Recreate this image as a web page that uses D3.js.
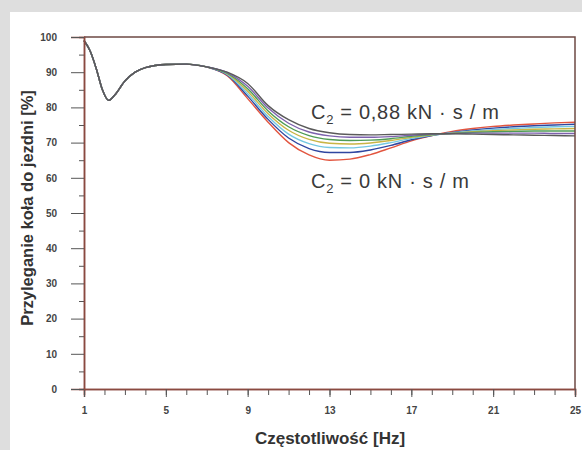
<!DOCTYPE html>
<meta charset="utf-8">
<head>
  <title>Przyleganie kola do jezdni</title>
</head>

<style>
body {
  margin: 0;
  background: #fff;
  font-family: Arial, "Liberation Sans", sans-serif;
}
</style>

<body>
  <div id="content"></div>

  <script src="https://cdnjs.cloudflare.com/ajax/libs/d3/7.8.5/d3.min.js"></script>

  <script>
// Frequencies [Hz]
var freqHead = [1, 1.3, 1.6, 1.9, 2.2, 2.5, 3, 3.5, 4, 5, 6, 7];
var freqTail = [8, 9, 10, 11, 12, 13, 14, 15, 16, 17, 18, 19, 20, 21, 22, 23, 24, 25];

// below 8 Hz all curves overlap
var headValues = [99, 96, 91, 85, 82, 83.5, 87.5, 90, 91.3, 92.2, 92.3, 91.5];

// damping C2 from 0 to 0.88 kN s/m
var c2Red    = [89.0, 82.5, 75.8, 70.0, 66.5, 65.0, 65.3, 66.6, 68.5, 70.5, 72.0, 73.2, 74.0, 74.6, 75.0, 75.3, 75.6, 75.8];
var c2Blue   = [89.2, 83.2, 76.6, 71.3, 68.3, 67.2, 67.2, 67.9, 69.2, 70.8, 72.0, 72.9, 73.6, 74.1, 74.5, 74.8, 75.0, 75.2];
var c2Cyan   = [89.4, 83.9, 77.4, 72.4, 69.7, 68.6, 68.5, 69.0, 70.0, 71.2, 72.1, 72.8, 73.3, 73.7, 74.0, 74.3, 74.5, 74.6];
var c2Yellow = [89.6, 84.6, 78.2, 73.5, 70.9, 69.8, 69.6, 69.9, 70.6, 71.5, 72.2, 72.7, 73.1, 73.4, 73.6, 73.8, 73.9, 74.0];
var c2Green  = [89.7, 85.3, 79.0, 74.5, 72.0, 70.9, 70.6, 70.7, 71.1, 71.8, 72.3, 72.6, 72.9, 73.1, 73.2, 73.3, 73.3, 73.3];
var c2Purple = [89.9, 86.0, 79.8, 75.5, 73.0, 71.9, 71.5, 71.5, 71.7, 72.1, 72.4, 72.6, 72.7, 72.7, 72.7, 72.7, 72.6, 72.6];
var c2Grey   = [90.0, 86.8, 80.5, 76.5, 74.0, 72.8, 72.3, 72.2, 72.3, 72.4, 72.5, 72.5, 72.4, 72.3, 72.2, 72.1, 72.0, 71.9];

var xTickLabels = [1, 5, 9, 13, 17, 21, 25];
var yTickLabels = [0, 10, 20, 30, 40, 50, 60, 70, 80, 90, 100];

var series = [
  {values: c2Red, color: '#e2553f'},
  {values: c2Blue, color: '#2f46a0'},
  {values: c2Cyan, color: '#74c8e2'},
  {values: c2Yellow, color: '#c9b545'},
  {values: c2Green, color: '#4f9c55'},
  {values: c2Purple, color: '#7d62ad'},
  {values: c2Grey, color: '#5a5a5a'}
];

var width = 582, height = 450;
var axisColor = '#8a4a40';

var svg = d3.select('#content').append('svg')
  .attr('width', width)
  .attr('height', height);

// page background: grey margins of the scanned page
svg.append('rect').attr('width', width).attr('height', height).attr('fill', '#dedede');
svg.append('rect').attr('x', 10).attr('y', 12).attr('width', width - 10).attr('height', height - 12).attr('fill', '#fff');

var x = d3.scaleLinear().domain([1, 25]).range([84, 575]);
var y = d3.scaleLinear().domain([0, 100]).range([389, 37]);

var line = d3.line()
  .x(function(d) { return x(d[0]); })
  .y(function(d) { return y(d[1]); })
  .curve(d3.curveMonotoneX);

var plot = svg.append('g');

series.forEach(function(s) {
  var pts = freqHead.map(function(f, i) { return [f, headValues[i]]; })
    .concat(freqTail.map(function(f, i) { return [f, s.values[i]]; }));
  plot.append('path')
    .datum(pts)
    .attr('fill', 'none')
    .attr('stroke', s.color)
    .attr('stroke-width', 1.4)
    .attr('d', line);
});

// frame top + right
svg.append('path')
  .attr('d', 'M' + x(1) + ',' + y(100) + 'H' + x(25) + 'V' + y(0))
  .attr('fill', 'none')
  .attr('stroke', '#6e4a44')
  .attr('stroke-width', 1.5);

// x axis
var xAxis = svg.append('g').attr('transform', 'translate(0,' + y(0) + ')');
xAxis.call(d3.axisBottom(x).tickValues(d3.range(1, 26)).tickSize(6).tickFormat(''));
xAxis.append('g').call(d3.axisBottom(x).tickValues(xTickLabels).tickSize(8).tickPadding(10).tickFormat(d3.format('d')));

// y axis
var yAxis = svg.append('g').attr('transform', 'translate(' + x(1) + ',0)');
yAxis.call(d3.axisLeft(y).tickValues(d3.range(5, 100, 10)).tickSize(5).tickFormat(''));
yAxis.append('g').call(d3.axisLeft(y).tickValues(yTickLabels).tickSize(13).tickPadding(14).tickFormat(d3.format('d')));

svg.selectAll('.domain').attr('stroke', axisColor).attr('stroke-width', 1.5);
svg.selectAll('.tick line').attr('stroke', '#555');
svg.selectAll('.tick text')
  .attr('fill', '#444')
  .style('font-family', '"Liberation Sans Narrow", "Arial Narrow", sans-serif')
  .style('font-size', '10px')
  .style('font-weight', 'bold');

// axis titles
svg.append('text')
  .attr('x', 330).attr('y', 444)
  .attr('text-anchor', 'middle')
  .style('font-size', '17px').style('font-weight', 'bold')
  .attr('fill', '#333')
  .text('Częstotliwość [Hz]');

svg.append('text')
  .attr('transform', 'translate(33,208) rotate(-90)')
  .attr('text-anchor', 'middle')
  .style('font-size', '16.5px').style('font-weight', 'bold')
  .attr('fill', '#333')
  .text('Przyleganie koła do jezdni [%]');

// annotations
function label(px, py, rest) {
  var t = svg.append('text')
    .attr('x', px).attr('y', py)
    .style('font-size', '20px')
    .style('letter-spacing', '0.7px')
    .attr('fill', '#3a3a3a');
  t.append('tspan').text('C');
  t.append('tspan').attr('dy', 5).style('font-size', '13px').text('2');
  t.append('tspan').attr('dy', -5).text(rest);
}
label(311, 119, ' = 0,88 kN · s / m');
label(311, 188, ' = 0 kN · s / m');
  </script>
</body>
</html>
